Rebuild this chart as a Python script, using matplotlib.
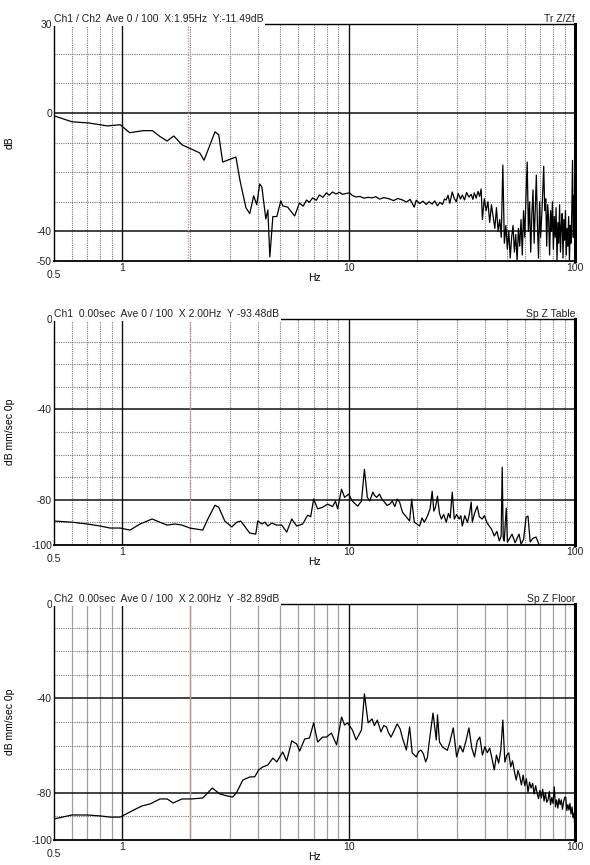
import matplotlib
matplotlib.use("Agg")
import matplotlib.pyplot as plt
from matplotlib.ticker import NullLocator
from matplotlib.transforms import blended_transform_factory

plt.rcParams.update({
    "font.family": ["Liberation Sans", "DejaVu Sans"],
    "font.size": 7.5,
    "text.color": "#222222",
    "xtick.color": "#222222",
    "ytick.color": "#222222",
})

# --- panel 1: transfer Z table / Z floor (dB) ---
tr_hz = [0.5, 0.6, 0.71, 0.86, 0.98, 1.08, 1.24, 1.36, 1.47, 1.58,
         1.69, 1.84, 2.2, 2.3, 2.57, 2.67, 2.78, 3.18, 3.31, 3.52,
         3.66, 3.81, 3.93, 4.05, 4.14, 4.31, 4.4, 4.49, 4.63, 4.82,
         5.02, 5.12, 5.38, 5.78, 6.07, 6.3, 6.52, 6.7, 6.94, 7.2,
         7.43, 7.7, 7.98, 8.2, 8.5, 8.8, 9.1, 9.4, 9.75, 10.1,
         10.4, 10.8, 11.2, 11.7, 12.2, 12.7, 13.2, 13.7, 14.3, 15.1,
         15.8, 16.5, 17.3, 18.0, 18.7, 19.5, 19.9, 20.6, 21.3, 22.0,
         22.7, 23.4, 24.0, 24.7, 25.3, 26.0, 26.5, 27.0, 27.5, 28.0,
         28.7, 29.3, 29.9, 30.5, 31.2, 31.8, 32.5, 33.2, 34.0, 34.8,
         35.4, 35.9, 36.6, 37.3, 37.9, 38.5]
tr_db = [-1, -3, -3.4, -4.4, -4, -6.7, -6, -6, -8, -9.5,
         -7.8, -10.8, -13.5, -16, -6.4, -7.4, -16.6, -14.9, -22.6, -32,
         -34, -28, -31, -24, -25, -35.8, -32.8, -48.6, -35, -35,
         -29.7, -31.4, -31.8, -34.8, -30.4, -31.5, -29.4, -30.2, -28.7, -29.5,
         -27.7, -28.5, -27, -27.8, -26.7, -27.4, -26.8, -27.5, -27.2, -27,
         -27.9, -28.4, -28.2, -28.8, -28.5, -28.7, -28.3, -29.1, -28.6, -29,
         -29.6, -28.9, -29.4, -30.1, -29.2, -31.8, -29.5, -30.6, -29.8, -30.9,
         -30, -30.8, -29.7, -31.4, -30.2, -30.9, -29.1, -29.4, -27.8, -30.5,
         -26.7, -28.9, -30, -27.2, -29.1, -27.7, -29.4, -26.9, -28.4, -27.5,
         -29.2, -27, -28.8, -26.5, -28.2, -25.7]
tr_hz_hi = [39, 39.75, 40.5, 41.25, 42, 42.75, 43.5, 44.25, 45, 45.75,
            46.5, 47.25, 48, 48.75, 49.5, 50.25, 51, 51.75, 52.5, 53.25,
            54, 54.75, 55.5, 56.25, 57, 57.75, 58.5, 59.25, 60, 60.75,
            61.5, 62.25, 63, 63.75, 64.5, 65.25, 66, 66.75, 67.5, 68.25,
            69, 69.75, 70.5, 71.25, 72, 72.75, 73.5, 74.25, 75, 75.75,
            76.5, 77.25, 78, 78.75, 79.5, 80.25, 81, 81.75, 82.5, 83.25,
            84, 84.75, 85.5, 86.25, 87, 87.75, 88.5, 89.25, 90, 90.75,
            91.5, 92.25, 93, 93.75, 94.5, 95.25, 96, 96.75, 97.5, 98.25,
            99, 99.75]
tr_db_hi = [-36, -29, -33, -30, -37, -31, -35, -39, -32, -40,
            -36, -42, -17.6, -44, -38, -46, -40, -49, -42, -38,
            -47, -41, -50, -39, -45, -36, -48, -33, -42, -28,
            -16.6, -40, -30, -47, -34, -26, -44, -32, -21, -38,
            -49, -30, -42, -35, -27, -18, -33, -29, -45, -31,
            -36, -48, -33, -40, -30, -46, -35, -42, -32, -50,
            -37, -44, -31, -47, -38, -34, -49, -36, -43, -33,
            -48, -39, -45, -35, -50, -38, -44, -34, -16, -42,
            -28, -31]

# --- panel 2: spectrum Z table (dB mm/sec 0p) ---
tb_hz = [0.5, 0.6, 0.7, 0.8, 0.885, 0.98, 1.084, 1.2, 1.356, 1.578,
         1.71, 1.84, 1.99, 2.27, 2.39, 2.57, 2.67, 2.84, 3.05, 3.21,
         3.34, 3.66, 3.89, 3.97, 4.14, 4.27, 4.4, 4.58, 4.82, 5.07,
         5.33, 5.61, 5.9, 6.27, 6.6, 6.8, 7.01, 7.3, 7.68, 8.08,
         8.5, 8.75, 8.95, 9.31, 9.6, 10.0, 10.4, 10.96, 11.4, 11.75,
         12.1, 12.4, 12.8, 13.0, 13.3, 13.7, 14.0, 14.4, 14.8, 15.2,
         15.6, 16.0, 16.4, 16.8, 17.3, 17.8, 18.6, 19.0,
         19.5, 20.6, 21.1, 21.6, 22.3, 22.9, 23.4, 23.8, 24.2, 24.7,
         25.2, 25.7, 26.3, 27.0, 27.6, 28.1, 28.7, 29.3, 30.0, 30.8,
         31.3, 31.8, 32.6, 33.5, 34.2, 34.8, 35.2, 36.0, 37.0, 37.8,
         38.9, 39.8, 40.8, 41.8, 42.8, 44.0, 45.2, 46.3, 47.2, 47.7,
         48.2, 48.7, 49.7, 50.3, 51.5, 52.7, 54.4, 55.5, 56.6, 57.8,
         59.3, 60.8, 62.0, 63.4, 65.2, 67.3, 69.4, 72, 78, 85,
         92, 100]
tb_db = [-89.4, -89.9, -90.7, -91.6, -92.5, -92.5, -93.4, -90.7, -88.5, -91.2,
         -90.7, -91.2, -92.5, -93.4, -88.5, -82.4, -83.3, -89.4, -92, -89.9,
         -89.4, -94.7, -95.2, -89.4, -90.7, -89.9, -91.6, -90.3, -91.2, -91.2,
         -94.3, -88.5, -91.6, -90.7, -86.8, -87.5, -79.7, -84, -83.3, -81.9,
         -83, -80.6, -84, -75.3, -78.9, -77.5, -80.6, -82.8, -80.6, -66.5,
         -78.9, -80.5, -76.6, -78, -78.9, -77.5, -79.5, -81, -82.5, -81.9,
         -80.5, -83, -79.7, -81, -85.5, -87, -89.4, -79.7,
         -89.9, -91.6, -88, -89.9, -87.2, -84, -76.2, -85, -83.3, -78.4,
         -86, -88.5, -86.5, -89.9, -86, -88, -76.6, -88.5, -86.5, -88.5,
         -87, -91.6, -87, -90, -86, -81, -89.9, -86, -82.8, -87.5,
         -88.5, -87, -90, -91.6, -93, -96, -94, -98.2, -96, -65.6,
         -97, -98.2, -83.7, -98.7, -97, -95.2, -99, -97, -95.2, -99.6,
         -97.5, -87.7, -87.2, -98.7, -97, -96.5, -99.8, -102, -104, -106,
         -105, -108]

# --- panel 3: spectrum Z floor (dB mm/sec 0p) ---
fl_hz = [0.5, 0.6, 0.7, 0.8, 0.885, 0.98, 1.084, 1.22, 1.33, 1.47,
         1.58, 1.68, 1.84, 2.03, 2.27, 2.5, 2.7, 2.93, 3.08, 3.21,
         3.41, 3.66, 3.85, 4.01, 4.17, 4.4, 4.63, 4.82, 5.12, 5.33,
         5.61, 5.9, 6.08, 6.4, 6.72, 7.01, 7.3, 7.68, 7.98, 8.4,
         8.85, 9.31, 9.6, 9.9, 10.4, 10.8, 11.4,
         11.75, 12.2, 12.7, 13.0, 13.4, 13.9, 14.3, 14.7, 15.0, 15.4,
         15.9, 16.4, 16.9, 17.3, 18.0, 18.6, 19.1, 19.9, 20.4, 20.9,
         21.4, 21.9, 22.3, 22.7, 23.6, 24.4, 24.7, 25.2, 26.0, 27.3]
fl_db = [-91.1, -89.4, -89.4, -89.8, -90.3, -90.3, -88.1, -85.6, -84.7, -82.6,
         -82.6, -84.3, -82.6, -82.6, -82.2, -78, -80.5, -81.4, -81.8, -79.7,
         -74.6, -73.3, -73.2, -70.3, -69.1, -68.2, -65.3, -66.9, -62.7, -66.5,
         -58, -59.3, -62.3, -57.2, -56.8, -50.4, -58.5, -56.4, -56.4, -54.7,
         -59.7, -47.9, -51.3, -50.4, -53.4, -57.6, -53.4,
         -38.1, -50.4, -48.7, -51.5, -49.2, -54.2, -51.5, -52.1, -54.5, -56.4,
         -53.5, -50.8, -53, -56.8, -61.9, -52.1, -63.1, -64.8, -62.5, -61.9,
         -63.5, -66.9, -65, -58.5, -46.2, -57.6, -47, -58.5, -60.6, -62]
fl_hz_hi = [28, 29, 30, 31, 32, 33, 34, 35, 36, 37,
            38, 39, 40, 41, 42, 43, 44, 45, 46, 47,
            48, 49, 50, 51, 52, 53, 54, 55, 56, 57,
            58, 59, 60, 61, 62, 63, 64, 65, 66, 67,
            68, 69, 70, 71, 72, 73, 74, 75, 76, 77,
            78, 79, 80, 81, 82, 83, 84, 85, 86, 87,
            88, 89, 90, 91, 92, 93, 94, 95, 96, 97,
            98, 99, 100]
fl_db_hi = [-58.5, -52.5, -64.8, -60, -62.7, -58, -52.5, -61, -64.8, -58,
            -56.4, -64, -60.5, -63, -61, -65.5, -70.3, -64, -67.4, -62,
            -49.2, -67, -64, -63.1, -69, -66.5, -71, -74.6, -70.5, -73,
            -76.7, -72.5, -77, -74, -79.7, -75.5, -78, -76, -80.5, -77,
            -80, -82.5, -79, -82.2, -78.5, -83.5, -80, -84, -83, -79.5,
            -85, -82, -84.5, -77.5, -86, -83, -86.5, -82.5, -85, -83,
            -87, -84, -82, -81.8, -87.5, -85, -87.3, -84.5, -89, -86,
            -90.5, -88.6, -95.8]

titles_left = ["Ch1 / Ch2  Ave 0 / 100  X:1.95Hz  Y:-11.49dB",
               "Ch1  0.00sec  Ave 0 / 100  X 2.00Hz  Y -93.48dB",
               "Ch2  0.00sec  Ave 0 / 100  X 2.00Hz  Y -82.89dB"]
titles_right = ["Tr Z/Zf", "Sp Z Table", "Sp Z Floor"]
ylabels = ["dB", "dB mm/sec 0p", "dB mm/sec 0p"]
cursor_hz = [1.95, 2.0, 2.0]

W, H = 590, 865


def panel(fig, top_px, bot_px, hz, db, ylim, yticks, major_y, ylabel,
          tleft, tright, cursor, solid_minor):
    left_px, right_px = 54, 575
    h_px = bot_px - top_px
    ax = fig.add_axes([left_px / W, 1 - bot_px / H,
                       (right_px - left_px) / W, h_px / H])
    ax.set_xscale("log")
    ax.set_xlim(0.5, 100)
    ax.set_ylim(*ylim)

    dot = (0, (1, 1))
    minor_x = [0.6, 0.7, 0.8, 0.9, 2, 3, 4, 5, 6, 7, 8, 9,
               20, 30, 40, 50, 60, 70, 80, 90]
    for f in minor_x:
        if solid_minor:
            ax.axvline(f, color="#a0a0a0", lw=0.9, zorder=1)
        else:
            ax.axvline(f, color="#777777", lw=0.8, ls=dot, zorder=1)
    for f in [1, 10]:
        ax.axvline(f, color="#111111", lw=1.0, zorder=1.2)
    ax.axvline(cursor, color="#c49090", lw=1.0,
               ls="-" if solid_minor else dot, zorder=1.3)

    y = ylim[0] + 10
    while y < ylim[1]:
        if y in major_y:
            ax.axhline(y, color="#111111", lw=1.1, zorder=1.2)
        else:
            ax.axhline(y, color="#777777", lw=0.8, ls=dot, zorder=1)
        y += 10

    ax.plot(hz, db, color="black", lw=0.9, zorder=3)

    for s in ["left", "top"]:
        ax.spines[s].set_linewidth(1.0)
    ax.spines["bottom"].set_linewidth(1.3)
    ax.spines["right"].set_linewidth(2.2)

    ax.set_yticks(yticks)
    ax.set_yticklabels([str(v) for v in yticks])
    ax.set_xticks([1, 10, 100])
    ax.set_xticklabels(["1", "10", "100"])
    ax.xaxis.set_minor_locator(NullLocator())
    ax.tick_params(axis="both", length=0, pad=1.5, labelsize=7.5)
    trans = blended_transform_factory(ax.transData, ax.transAxes)
    ax.text(0.5, -9 / h_px, "0.5", transform=trans, ha="center", va="top",
            fontsize=7.5)

    ax.set_xlabel("Hz", fontsize=7.5)
    ax.xaxis.set_label_coords(0.5, -12 / h_px)
    ax.set_ylabel(ylabel, fontsize=7.5)
    ax.yaxis.set_label_coords(-39 / (right_px - left_px), 0.5)

    ax.text(0.0, 1.0, tleft, transform=ax.transAxes, ha="left", va="bottom",
            fontsize=7.5, zorder=6, clip_on=False,
            bbox=dict(facecolor="white", edgecolor="none", pad=1.2))
    ax.text(1.0, 1.0, tright, transform=ax.transAxes, ha="right",
            va="bottom", fontsize=7.5, zorder=6, clip_on=False)
    return ax


fig = plt.figure(figsize=(W / 100, H / 100), dpi=100)

panel(fig, 24, 261, tr_hz + tr_hz_hi, tr_db + tr_db_hi, (-50, 30),
      [30, 0, -40, -50], [0, -40], ylabels[0], titles_left[0],
      titles_right[0], cursor_hz[0], False)
panel(fig, 319, 545, tb_hz, tb_db, (-100, 0), [0, -40, -80, -100],
      [-40, -80], ylabels[1], titles_left[1], titles_right[1],
      cursor_hz[1], False)
panel(fig, 604, 840, fl_hz + fl_hz_hi, fl_db + fl_db_hi, (-100, 0),
      [0, -40, -80, -100], [-40, -80], ylabels[2], titles_left[2],
      titles_right[2], cursor_hz[2], True)

fig.savefig("out.png", dpi=100)
plt.close(fig)
